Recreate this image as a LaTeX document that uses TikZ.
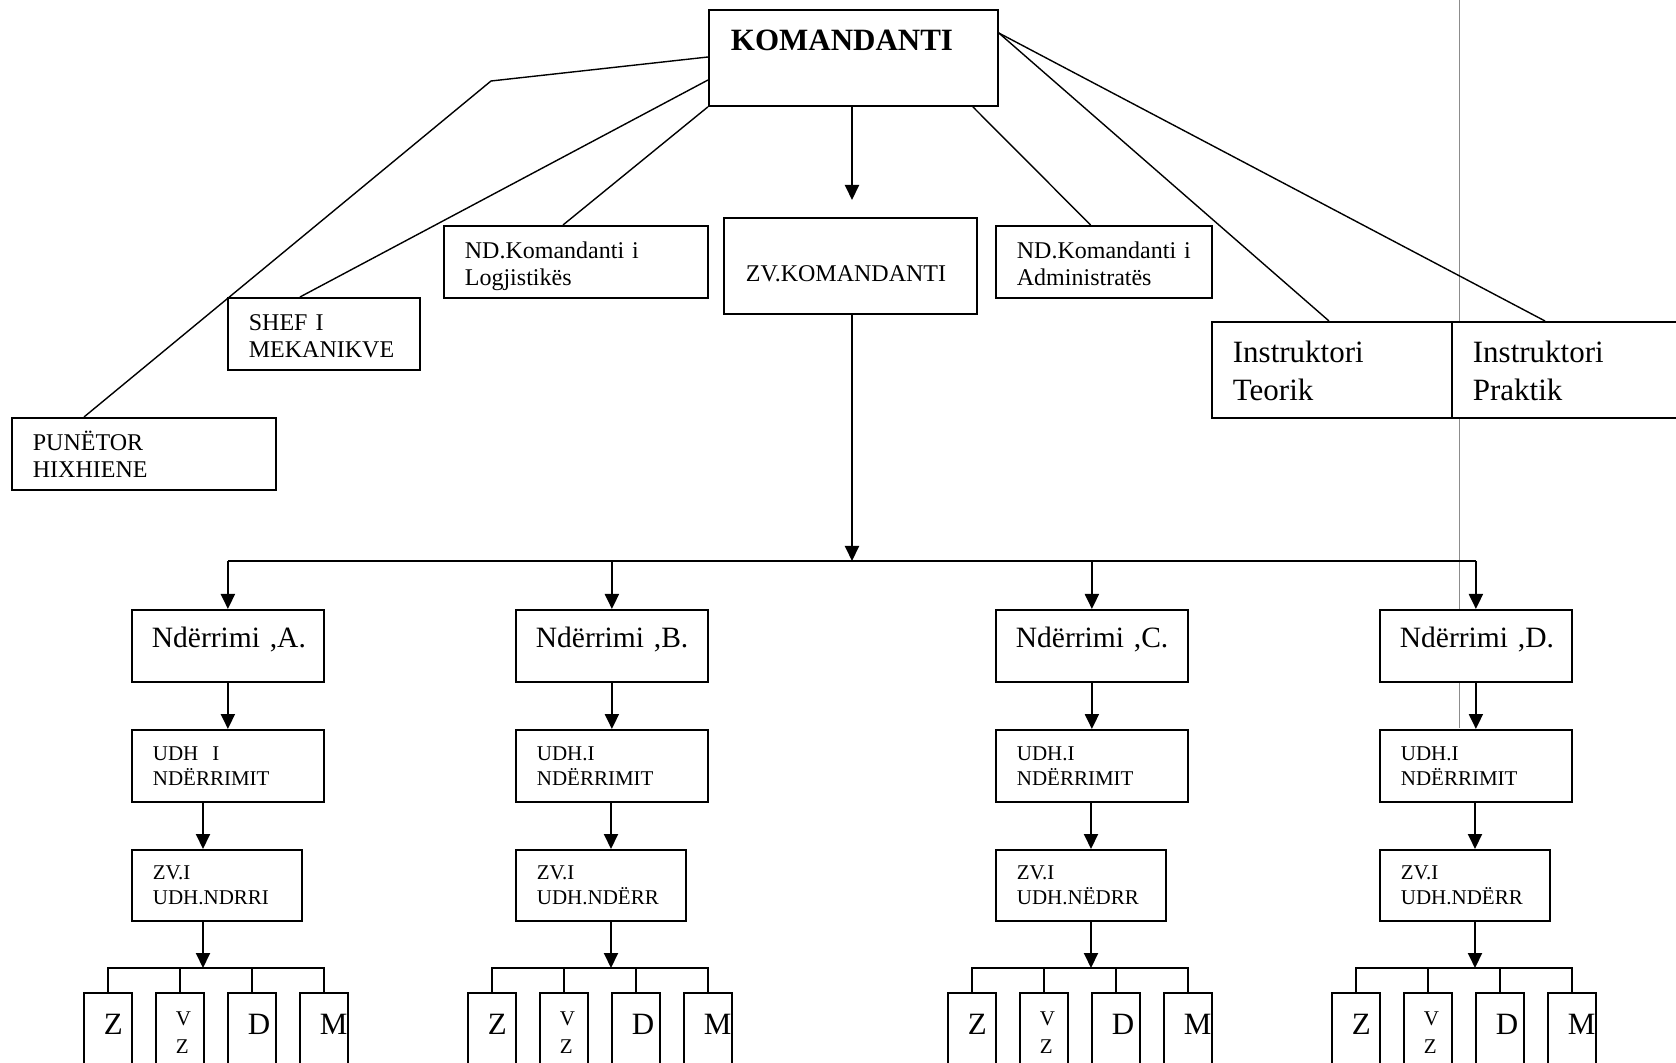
\documentclass[tikz,border=0pt]{standalone}
\usepackage{fontspec}
\setmainfont{Liberation Serif}
\usetikzlibrary{arrows.meta}

\tikzset{
    orgbox/.style={draw, line width=0.9pt, fill=white, anchor=north west,
        inner xsep=10.5pt, inner ysep=0pt, align=left},
    lowbox/.style={orgbox, text height=16.5pt, text depth=19.5pt,
        font=\fontsize{12pt}{13.35pt}\selectfont},
    instbox/.style={orgbox, text width=99pt, text height=20.35pt, text depth=27.65pt,
        font=\fontsize{15.5pt}{18.8pt}\selectfont},
    shiftbox/.style={orgbox, inner xsep=10pt, text width=76pt, text height=18.85pt,
        text depth=17.15pt, font=\fontsize{14.75pt}{17pt}\selectfont},
    leadbox/.style={orgbox, text height=15.15pt, text depth=20.85pt,
        font=\fontsize{10.5pt}{12.7pt}\selectfont},
    crewbox/.style={orgbox, inner xsep=10pt, text width=4pt, text height=21pt,
        text depth=29pt, font=\fontsize{15.5pt}{18pt}\selectfont},
    arr/.style={line width=1pt, -{Triangle[length=7.5pt, width=7pt]}},
    ln/.style={line width=0.7pt}
}

\begin{document}
\begin{tikzpicture}[x=0.5pt, y=-0.5pt]
    \useasboundingbox (0,0) rectangle (1676,1063);
    % thin page rule behind the boxes
    \draw[black!45, line width=0.5pt] (1459,0) -- (1459,728);

    \node[orgbox, inner xsep=11pt, text width=122.5pt, text height=20.5pt, text depth=27.5pt,
        font=\fontsize{15.5pt}{18pt}\selectfont\bfseries] (kom) at (708,9) {KOMANDANTI};
    \node[orgbox, inner xsep=11pt, text width=104.5pt, text height=31.85pt, text depth=16.15pt,
        font=\fontsize{12pt}{13.35pt}\selectfont] (zvk) at (723,217) {ZV.KOMANDANTI};
    \node[lowbox, text width=111pt] (log) at (443,225) {ND.Komandanti~i\\Logjistikës};
    \node[lowbox, text width=87pt] (adm) at (995,225) {ND.Komandanti~i\\Administratës};
    \node[lowbox, text width=75pt] (shef) at (227,297) {SHEF I\\MEKANIKVE};
    \node[lowbox, text width=111pt] (pun) at (11,417) {PUNËTOR\\HIXHIENE};
    \node[instbox] (teo) at (1211,321) {Instruktori\\Teorik};
    \node[instbox] (pra) at (1451,321) {Instruktori\\Praktik};

    \coordinate (pbend) at (491,81);
    \coordinate (zvtip) at (852,200);
    \coordinate (bus) at (852,561);

    \draw[ln] ([yshift=-24pt]kom.north west) -- (pbend) -- ([xshift=36.5pt]pun.north west);
    \draw[ln] ([yshift=-35.5pt]kom.north west) -- ([xshift=36.5pt]shef.north west);
    \draw[ln] (kom.south west) -- ([xshift=60pt]log.north west);
    \draw[ln] ([xshift=-13pt]kom.south east) -- ([xshift=47.8pt]adm.north west);
    \draw[ln] ([yshift=-12pt]kom.north east) -- ([xshift=59pt]teo.north west);
    \draw[ln] ([yshift=-12pt]kom.north east) -- ([xshift=47pt]pra.north west);
    \draw[arr] (kom.south -| zvtip) -- (zvtip);
    \draw[arr] (zvk.south -| bus) -- (bus);

    \foreach \g/\xo/\ut/\zt/\ax in {A/131/{UDH\ \ I}/UDH.NDRRI/72,
                                    B/515/UDH.I/UDH.NDËRR/96,
                                    C/995/UDH.I/UDH.NËDRR/96,
                                    D/1379/UDH.I/UDH.NDËRR/96} {
        \node[shiftbox] (nd\g) at (\xo,609) {Ndërrimi~,\g.};
        \node[leadbox, text width=75pt] (udh\g) at (\xo,729) {\ut\\NDËRRIMIT};
        \node[leadbox, text width=64pt, text height=14.8pt, text depth=20.7pt] (zv\g) at (\xo,849) {ZV.I\\\zt};
        \node[crewbox] (z\g) at (\xo-48,992) {Z};
        \node[crewbox, text height=16.5pt, text depth=33.5pt,
            font=\fontsize{10.5pt}{13.85pt}\selectfont] (vz\g) at (\xo+24,992) {V\\Z};
        \node[crewbox] (d\g) at (\xo+96,992) {D};
        \node[crewbox] (m\g) at (\xo+168,992) {M};
        \coordinate (bus\g) at (\xo+\ax,968);

        \draw[arr] (nd\g.north |- bus) -- (nd\g.north);
        \draw[arr] (nd\g.south) -- (udh\g.north);
        \draw[arr] (udh\g.south -| bus\g) -- (zv\g.north -| bus\g);
        \draw[line width=1pt] (z\g.north) |- (m\g.north |- bus\g) -- (m\g.north);
        \draw[line width=1pt] (vz\g.north) -- (vz\g.north |- bus\g);
        \draw[line width=1pt] (d\g.north) -- (d\g.north |- bus\g);
        \draw[arr] (zv\g.south -| bus\g) -- (bus\g);
    }
    \draw[line width=1pt] (ndA.north |- bus) -- (ndD.north |- bus);
\end{tikzpicture}
\end{document}
